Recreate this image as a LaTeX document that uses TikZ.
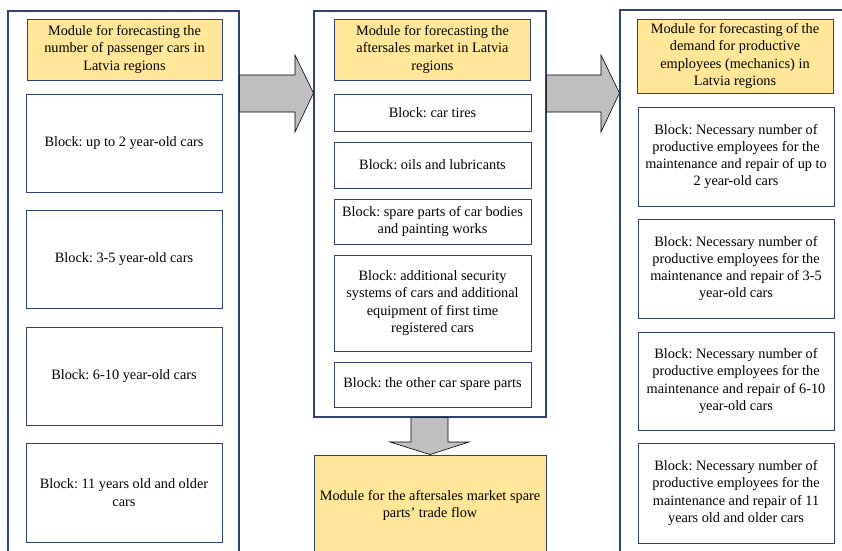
\documentclass[tikz,border=0pt]{standalone}
\usepackage{fontspec}
\setmainfont{Liberation Serif}
\definecolor{navy}{HTML}{2E4374}
\definecolor{gold}{HTML}{FFE699}
\definecolor{arrowgray}{HTML}{BFBFBF}
\tikzset{
  txt/.style={align=center, font=\fontsize{14.3}{17.2}\selectfont\frenchspacing, text=black},
  frame/.style={draw=navy, line width=1.1pt, fill=white, inner sep=0pt},
  hdr/.style={txt, draw=navy, line width=0.9pt, fill=gold, inner sep=1pt},
  blk/.style={txt, draw=navy, line width=0.9pt, fill=white, inner sep=1pt},
  barrow/.style={draw=black, fill=arrowgray, line width=0.6pt, line join=miter}
}
\begin{document}
\begin{tikzpicture}[x=1pt, y=-1pt]
\useasboundingbox (0,0) rectangle (842,550);
\clip (0,0) rectangle (842,550);

% outer module frames
\node[frame, minimum width=231pt, minimum height=560pt] (lframe) at (123.5,291) {};
\node[frame, minimum width=232pt, minimum height=406pt] (mframe) at (430,214) {};
\node[frame, minimum width=250pt, minimum height=560pt] (rframe) at (745,290) {};

% left column: passenger cars
\node[hdr, minimum width=195pt, minimum height=61pt] (lhead) at (124.5,49.5)
  {Module for forecasting the\\number of passenger cars in\\Latvia regions};
\node[blk, minimum width=196pt, minimum height=98pt] (l1) at (124,143) {Block: up to 2 year-old cars};
\node[blk, minimum width=196pt, minimum height=98pt] (l2) at (124,259) {Block: 3-5 year-old cars};
\node[blk, minimum width=196pt, minimum height=98pt] (l3) at (124,376) {Block: 6-10 year-old cars};
\node[blk, minimum width=196pt, minimum height=99pt] (l4) at (124,492.5) {Block: 11 years old and older\\cars};

% middle column: aftersales market
\node[hdr, minimum width=196pt, minimum height=61pt] (mhead) at (432.5,49.5)
  {Module for forecasting the\\aftersales market in Latvia\\regions};
\node[blk, minimum width=197pt, minimum height=37pt] (m1) at (432.5,112.5) {Block: car tires};
\node[blk, minimum width=197pt, minimum height=46pt] (m2) at (432.5,165) {Block: oils and lubricants};
\node[blk, minimum width=197pt, minimum height=45pt] (m3) at (432.5,221.5) {Block: spare parts of car bodies\\and painting works};
\node[blk, minimum width=197pt, minimum height=96pt] (m4) at (432.5,303)
  {Block: additional security\\systems of cars and additional\\equipment of first time\\registered cars};
\node[blk, minimum width=197pt, minimum height=45pt] (m5) at (432.5,384.5) {Block: the other car spare parts};

% trade flow module
\node[hdr, minimum width=232pt, minimum height=101pt] (trade) at (430,505.5)
  {Module for the aftersales market spare\\parts’ trade flow};

% right column: productive employees
\node[hdr, minimum width=196pt, minimum height=74pt] (rhead) at (735,56)
  {Module for forecasting of the\\demand for productive\\employees (mechanics) in\\Latvia regions};
\node[blk, minimum width=196pt, minimum height=99pt] (r1) at (736,156.5)
  {Block: Necessary number of\\productive employees for the\\maintenance and repair of up to\\2 year-old cars};
\node[blk, minimum width=196pt, minimum height=99pt] (r2) at (736,268.5)
  {Block: Necessary number of\\productive employees for the\\maintenance and repair of 3-5\\year-old cars};
\node[blk, minimum width=196pt, minimum height=98pt] (r3) at (736,381)
  {Block: Necessary number of\\productive employees for the\\maintenance and repair of 6-10\\year-old cars};
\node[blk, minimum width=196pt, minimum height=100pt] (r4) at (736,493)
  {Block: Necessary number of\\productive employees for the\\maintenance and repair of 11\\years old and older cars};

% block arrows between modules
\draw[barrow] (lframe.east |- 0,75) -- (295,75) -- (295,55) -- (mframe.west |- 0,93)
  -- (295,132) -- (295,112) -- (lframe.east |- 0,112) -- cycle;
\draw[barrow] (mframe.east |- 0,75) -- (601,75) -- (601,55) -- (rframe.west |- 0,93)
  -- (601,132) -- (601,112) -- (mframe.east |- 0,112) -- cycle;
\draw[barrow] (411,0 |- mframe.south) -- (411,442) -- (390,442) -- (trade.north)
  -- (469,442) -- (448,442) -- (448,0 |- mframe.south) -- cycle;
\end{tikzpicture}
\end{document}
